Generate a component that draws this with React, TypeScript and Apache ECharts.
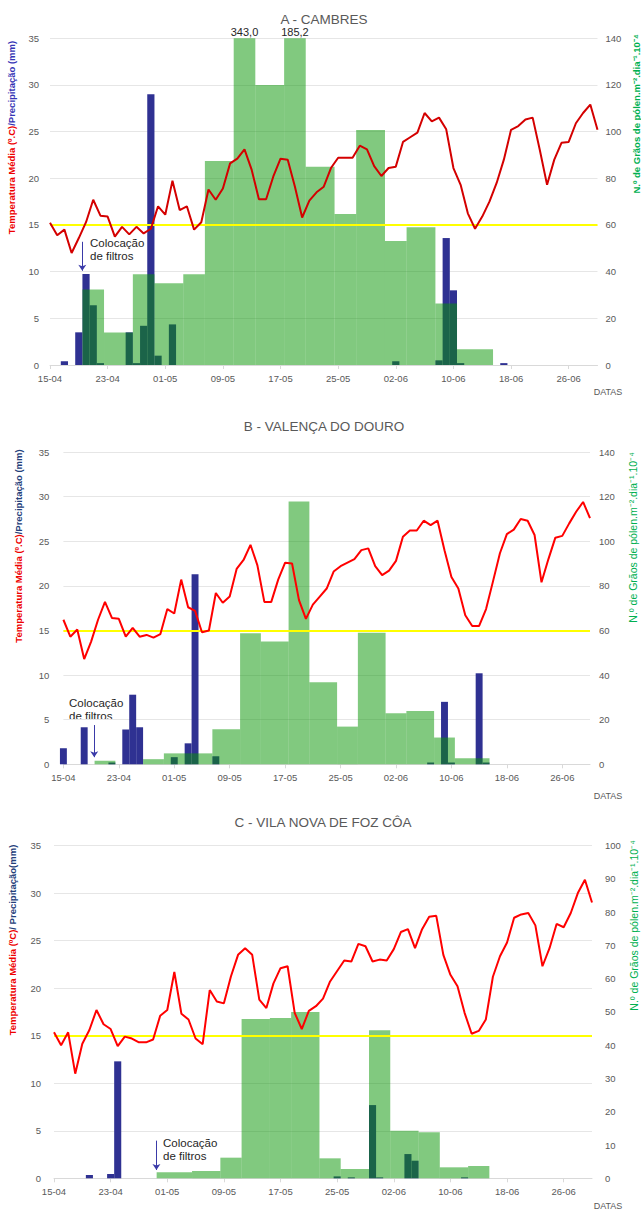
import React, { useEffect, useRef } from 'react';
import * as echarts from 'echarts';

// ---------- DATA ----------
// days counted from 15-04 (day 0) to 30-06 (day 76)
const dateTicks = ['15-04', '23-04', '01-05', '09-05', '17-05', '25-05', '02-06', '10-06', '18-06', '26-06'];

// Mean temperature (ºC), one value per day
const tempA = [
  15.25, 13.9, 14.5, 12.0, 13.6, 15.3, 17.7, 16.0, 15.9, 13.75,
  14.8, 14.0, 14.8, 14.1, 14.6, 17.0, 16.1, 19.75, 16.6, 17.0,
  14.5, 15.3, 18.8, 17.7, 18.9, 21.6, 22.1, 23.1, 20.9, 17.75,
  17.75, 20.2, 22.1, 22.0, 19.1, 15.8, 17.6, 18.5, 19.1, 21.1,
  22.2, 22.2, 22.2, 23.5, 23.1, 21.3, 20.25, 21.1, 21.25, 23.9,
  24.4, 24.9, 27.0, 26.1, 26.5, 25.25, 21.1, 19.3, 16.25, 14.6,
  15.9, 17.5, 19.5, 22.0, 25.2, 25.6, 26.3, 26.5, 23.0, 19.3,
  22.0, 23.8, 23.9, 25.9, 27.0, 27.9, 25.2,
];
const tempB = [
  16.2, 14.3, 15.1, 11.8, 13.75, 16.2, 18.2, 16.4, 16.3, 14.3,
  15.3, 14.3, 14.5, 14.2, 14.6, 17.4, 16.9, 20.7, 17.6, 17.2,
  14.8, 15.0, 19.2, 18.1, 18.8, 21.9, 22.9, 24.6, 22.3, 18.2,
  18.2, 20.7, 22.6, 22.5, 18.4, 16.3, 17.9, 18.8, 19.7, 21.6,
  22.2, 22.6, 23.0, 24.0, 24.2, 22.2, 21.2, 21.7, 22.8, 25.5,
  26.2, 26.2, 27.3, 26.8, 27.3, 24.0, 21.0, 19.7, 16.7, 15.5,
  15.5, 17.4, 20.5, 23.65, 25.8, 26.3, 27.5, 27.3, 25.7, 20.4,
  23.0, 25.4, 25.6, 27.0, 28.3, 29.4, 27.6,
];
const tempC = [
  15.35, 14.0, 15.35, 11.0, 14.15, 15.6, 17.7, 16.2, 15.7, 13.9,
  14.9, 14.7, 14.3, 14.3, 14.6, 17.1, 17.7, 21.7, 17.3, 16.7,
  14.7, 14.1, 19.8, 18.6, 18.4, 21.25, 23.5, 24.2, 23.5, 18.8,
  17.9, 20.5, 22.1, 22.3, 17.4, 15.7, 17.6, 18.1, 18.9, 20.7,
  21.8, 22.9, 22.8, 24.65, 24.4, 22.8, 23.0, 22.9, 24.1, 25.9,
  26.2, 24.2, 26.2, 27.5, 27.6, 23.5, 21.4, 20.2, 17.4, 15.2,
  15.5, 16.7, 21.2, 23.35, 24.8, 27.4, 27.75, 27.9, 26.6, 22.3,
  24.2, 26.75, 26.4, 27.9, 30.0, 31.4, 29.0,
];

// Precipitation (mm): [day, value]
const precipA = [
  [2, 0.4], [4, 3.5], [5, 9.75], [6, 6.4], [7, 0.2], [11, 3.5], [12, 0.2], [13, 4.2],
  [14, 29.0], [15, 1.0], [17, 4.35], [48, 0.4], [54, 0.5], [55, 13.6], [56, 8.0], [57, 0.2], [63, 0.2],
];
const precipB = [
  [0, 1.8], [3, 4.15], [7, 0.2], [9, 3.9], [10, 7.8], [11, 4.15], [16, 0.8], [18, 2.35],
  [19, 21.3], [22, 0.9], [53, 0.2], [55, 7.0], [56, 0.2], [60, 10.2], [61, 0.2],
];
const precipC = [
  [5, 0.35], [8, 0.45], [9, 12.3], [40, 0.2], [42, 0.1], [45, 7.7], [46, 0.1], [50, 2.55], [51, 1.85], [58, 0.1],
];

// Pollen per sampling period: [first day, last day, value]
const pollenA = [
  [5, 7, 32.4], [8, 11, 13.9], [12, 14, 38.9], [15, 18, 35.0], [19, 21, 38.9], [22, 25, 87.4],
  [26, 28, 343.0], [29, 32, 120.0], [33, 35, 185.2], [36, 39, 85.0], [40, 42, 64.7], [43, 46, 100.7],
  [47, 49, 53.1], [50, 53, 59.0], [54, 56, 26.4], [57, 61, 6.7],
];
const pollenB = [
  [5, 7, 1.6], [12, 14, 2.3], [15, 18, 4.9], [19, 21, 4.9], [22, 25, 15.7], [26, 28, 58.7],
  [29, 32, 55.0], [33, 35, 117.8], [36, 39, 36.8], [40, 42, 16.9], [43, 46, 59.0], [47, 49, 22.9],
  [50, 53, 23.9], [54, 56, 12.0], [57, 61, 2.7],
];
const pollenC = [
  [15, 19, 1.8], [20, 23, 2.2], [24, 26, 6.2], [27, 30, 47.9], [31, 33, 48.2], [34, 37, 50.0],
  [38, 40, 6.0], [41, 44, 2.8], [45, 47, 44.5], [48, 51, 14.3], [52, 54, 13.8], [55, 58, 3.3], [59, 61, 3.7],
];

// filter placement: [day, arrow top value, arrow tip value]
const filtersA = [4.48, 13.2, 10.1];
const filtersB = [4.45, 4.4, 0.8];
const filtersC = [14.47, 3.96, 0.87];

// ---------- STYLE / LAYOUT ----------
const FONT = '"Liberation Sans", Arial, sans-serif';
const GREEN = 'rgba(8,150,4,0.51)';
const BLUE = '#2f3192';
const GREY = '#595959';
const LAST_DAY = 76;

const panels = [
  {
    title: 'A - CAMBRES', titleX: 324, titleY: 19,
    box: [50, 38.3, 597.5, 365],
    temp: tempA, precip: precipA, pollen: pollenA, filters: filtersA,
    pMax: 140, pInt: 20, lineColor: '#d40000',
    leftName: { x: 11.5, y: 137.5, red: 'Temperatura Média (º.C)', blue: '/Precipitação (mm)', blueColor: '#3535b5' },
    rightName: { x: 636, y: 114, bold: true },
    note: { x: 90, y: 236 },
    datasY: 392, lm: 11, rm: 8,
  },
  {
    title: 'B - VALENÇA DO DOURO', titleX: 324, titleY: 426,
    box: [63.4, 452, 590, 764.3],
    temp: tempB, precip: precipB, pollen: pollenB, filters: filtersB,
    pMax: 140, pInt: 20, lineColor: '#ff0000',
    leftName: { x: 18.4, y: 546, red: 'Temperatura Média (º.C)', blue: '/Precipitação (mm)', blueColor: '#24407a' },
    rightName: { x: 633, y: 537.5, bold: false },
    note: { x: 69, y: 696 },
    datasY: 796, lm: 14, rm: 9,
  },
  {
    title: 'C - VILA NOVA DE FOZ CÔA', titleX: 323, titleY: 822,
    box: [54, 845.5, 592, 1178.3],
    temp: tempC, precip: precipC, pollen: pollenC, filters: filtersC,
    pMax: 100, pInt: 10, lineColor: '#ff0000',
    leftName: { x: 12.3, y: 940, red: 'Temperatura Média (ºC)', blue: '/ Precipitação(mm)', blueColor: '#24407a' },
    rightName: { x: 634, y: 925.5, bold: false },
    note: { x: 163, y: 1136 },
    datasY: 1206, lm: 13, rm: 13,
  },
];

function buildOption() {
  const grid: any[] = [];
  const xAxis: any[] = [];
  const yAxis: any[] = [];
  const series: any[] = [];
  const graphic: any[] = [];

  panels.forEach((p, i) => {
    const [l, t, r, b] = p.box;
    const dayW = (r - l) / LAST_DAY;
    grid.push({ left: l, top: t, width: r - l, height: b - t });
    xAxis.push({
      type: 'value', gridIndex: i, min: 0, max: LAST_DAY, interval: 8,
      splitLine: { show: false },
      axisLine: { lineStyle: { color: '#d9d9d9' } },
      axisTick: { show: true, length: 4, lineStyle: { color: '#d9d9d9' } },
      axisLabel: {
        color: GREY, fontSize: 9.5, fontFamily: FONT, margin: 8, showMaxLabel: false,
        formatter: (v: number) => (v % 8 === 0 ? dateTicks[v / 8] ?? '' : ''),
      },
    });
    yAxis.push({
      type: 'value', gridIndex: i, min: 0, max: 35, interval: 5, position: 'left',
      axisLine: { show: false }, axisTick: { show: false },
      splitLine: { lineStyle: { color: '#e6e6e6' } },
      axisLabel: { color: GREY, fontSize: 9.5, fontFamily: FONT, margin: p.lm },
    });
    yAxis.push({
      type: 'value', gridIndex: i, min: 0, max: p.pMax, interval: p.pInt, position: 'right',
      axisLine: { show: false }, axisTick: { show: false }, splitLine: { show: false },
      axisLabel: { color: GREY, fontSize: 9.5, fontFamily: FONT, margin: p.rm },
    });

    const [fd, fTop, fTip] = p.filters;
    series.push({
      type: 'bar', name: 'precip' + i, xAxisIndex: i, yAxisIndex: 2 * i,
      data: p.precip, barWidth: dayW, clip: false, z: 2,
      itemStyle: { color: BLUE },
      markLine: {
        silent: true, z: 6, symbol: ['none', 'arrow'], symbolSize: 6,
        label: { show: false },
        lineStyle: { color: '#3a3aa8', width: 1, type: 'solid' },
        data: [[{ coord: [fd, fTop] }, { coord: [fd, fTip] }]],
      },
    });
    series.push({
      type: 'custom', name: 'pollen' + i, xAxisIndex: i, yAxisIndex: 2 * i + 1,
      data: p.pollen, encode: { x: [0, 1], y: 2 }, z: 3,
      renderItem: (params: any, api: any) => {
        const s = api.value(0), e = api.value(1), v = api.value(2);
        const tl = api.coord([s - 0.5, v]);
        const br = api.coord([e + 0.5, 0]);
        const cs = params.coordSys;
        const rect = echarts.graphic.clipRectByRect(
          { x: tl[0], y: tl[1], width: br[0] - tl[0], height: br[1] - tl[1] },
          { x: cs.x, y: cs.y, width: cs.width, height: cs.height },
        );
        const children: any[] = [];
        if (rect) children.push({ type: 'rect', shape: rect, style: { fill: GREEN } });
        if (tl[1] < cs.y - 0.5) {
          children.push({
            type: 'text', x: (tl[0] + br[0]) / 2, y: cs.y - 0.5,
            style: {
              text: v.toFixed(1).replace('.', ','), fill: '#262626', fontSize: 11, fontFamily: FONT,
              align: 'center', verticalAlign: 'bottom',
            },
          });
        }
        return { type: 'group', children };
      },
    });
    series.push({
      type: 'line', name: 'temp' + i, xAxisIndex: i, yAxisIndex: 2 * i,
      data: p.temp.map((v, d) => [d, v]), symbol: 'none', z: 10,
      lineStyle: { color: p.lineColor, width: 2 },
      markLine: {
        silent: true, z: 4, symbol: 'none', label: { show: false },
        lineStyle: { color: '#ffff00', width: 2, type: 'solid' },
        data: [{ yAxis: 15 }],
      },
    });

    graphic.push({
      type: 'text', x: p.titleX, y: p.titleY,
      style: { text: p.title, fill: GREY, fontSize: 13.5, fontFamily: FONT, align: 'center', verticalAlign: 'middle' },
    });
    graphic.push({
      type: 'text', x: p.leftName.x, y: p.leftName.y, rotation: Math.PI / 2,
      style: {
        text: '{r|' + p.leftName.red + '}{b|' + p.leftName.blue + '}',
        align: 'center', verticalAlign: 'middle',
        rich: {
          r: { fill: '#ee0000', fontSize: 9.5, fontWeight: 'bold', fontFamily: FONT },
          b: { fill: p.leftName.blueColor, fontSize: 9.5, fontWeight: 'bold', fontFamily: FONT },
        },
      },
    });
    graphic.push({
      type: 'text', x: p.rightName.x, y: p.rightName.y, rotation: Math.PI / 2,
      style: {
        text: 'N.º de Grãos de pólen.m⁻².dia⁻¹.10⁻⁴',
        fill: '#00b050', fontSize: p.rightName.bold ? 9.5 : 10.5,
        fontWeight: p.rightName.bold ? 'bold' : 'normal', fontFamily: FONT,
        align: 'center', verticalAlign: 'middle',
      },
    });
    graphic.push({
      type: 'text', x: 608, y: p.datasY,
      style: { text: 'DATAS', fill: GREY, fontSize: 9, fontFamily: FONT, align: 'center', verticalAlign: 'middle' },
    });
    graphic.push({
      type: 'text', x: p.note.x, y: p.note.y,
      style: {
        text: 'Colocação\nde filtros', fill: '#262626', fontSize: 11.5, lineHeight: 13.5,
        fontFamily: FONT, align: 'left', verticalAlign: 'top',
      },
    });
  });

  return {
    animation: false,
    backgroundColor: '#ffffff',
    textStyle: { fontFamily: FONT },
    grid, xAxis, yAxis, series, graphic,
  };
}

export default function App() {
  const ref = useRef<HTMLDivElement>(null);
  useEffect(() => {
    if (!ref.current) return;
    const chart = echarts.init(ref.current, undefined, { renderer: 'svg' });
    chart.setOption(buildOption() as any);
    return () => chart.dispose();
  }, []);
  return (
    <div
      ref={ref}
      style={{ position: 'absolute', left: 0, top: 0, width: 641, height: 1214, background: '#fff' }}
    />
  );
}
